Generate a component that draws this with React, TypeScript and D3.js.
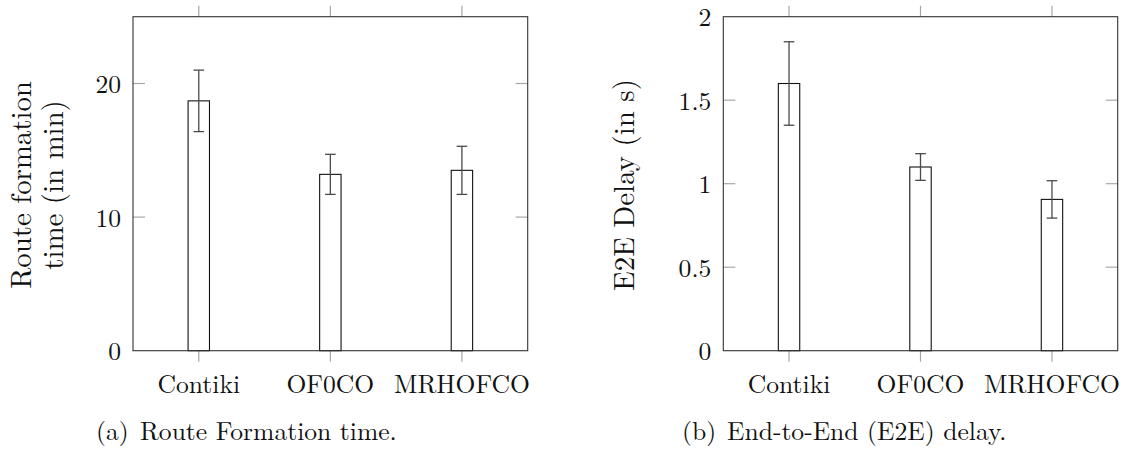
import React from 'react';
import * as d3 from 'd3';

const categories = ['Contiki', 'OF0CO', 'MRHOFCO'];

const routeFormation = [18.7, 13.2, 13.5];
const routeFormationErr = [2.3, 1.5, 1.8];
const routeTicks = [0, 10, 20];
const routeTickLabels = ['0', '10', '20'];

const e2eDelay = [1.6, 1.1, 0.906];
const e2eDelayErr = [0.25, 0.08, 0.112];
const delayTicks = [0, 0.5, 1, 1.5, 2];
const delayTickLabels = ['0', '0.5', '1', '1.5', '2'];

const FONT = '"Latin Modern Roman", "Liberation Serif", "DejaVu Serif"';

type PanelProps = {
  x0: number;
  x1: number;
  yMax: number;
  values: number[];
  errs: number[];
  ticks: number[];
  tickLabels: string[];
  yLabelLines: string[];
  yLabelXs: number[];
  captionTag: string;
  caption: string;
  captionTagX: number;
  captionX: number;
};

function Panel(p: PanelProps) {
  const yTop = 16.7;
  const yBottom = 350.7;
  const x = d3.scaleLinear().domain([0.5, 3.5]).range([p.x0, p.x1]);
  const y = d3.scaleLinear().domain([0, p.yMax]).range([yBottom, yTop]);
  const barW = 21.4;
  const capW = 10.6;
  const tickLen = 11;
  const tickColor = '#a8a8a8';
  const labelCy = (yTop + yBottom) / 2 + 1.3;
  const txt = { fontFamily: FONT };
  return (
    <g>
      {categories.map((c, i) => (
        <g key={'xt' + c}>
          <line x1={x(i + 1)} x2={x(i + 1)} y1={yBottom} y2={yBottom + tickLen} stroke={tickColor} strokeWidth={1.2} />
          <line x1={x(i + 1)} x2={x(i + 1)} y1={yTop} y2={yTop - tickLen} stroke={tickColor} strokeWidth={1.2} />
          <text x={x(i + 1)} y={393.3} textAnchor="middle" style={txt} fontSize={25.6} fill="#111">
            {c}
          </text>
        </g>
      ))}
      {p.ticks.map((t, i) => (
        <g key={'yt' + t}>
          {t > 0 && t < p.yMax && (
            <>
              <line x1={p.x0} x2={p.x0 + 12} y1={y(t)} y2={y(t)} stroke={tickColor} strokeWidth={1.2} />
              <line x1={p.x1} x2={p.x1 - 12} y1={y(t)} y2={y(t)} stroke={tickColor} strokeWidth={1.2} />
            </>
          )}
          <text x={p.x0 - 12} y={y(t)} dy="0.37em" textAnchor="end" style={txt} fontSize={25.6} fill="#111">
            {p.tickLabels[i]}
          </text>
        </g>
      ))}
      {p.values.map((v, i) => (
        <rect key={'b' + i} x={x(i + 1) - barW / 2} y={y(v)} width={barW} height={yBottom - y(v)} fill="#fff" stroke="#111" strokeWidth={1.1} />
      ))}
      {p.values.map((v, i) => {
        const cx = x(i + 1);
        const hi = y(v + p.errs[i]);
        const lo = y(v - p.errs[i]);
        return (
          <g key={'e' + i} stroke="#4a4a4a" strokeWidth={1.3}>
            <line x1={cx} x2={cx} y1={hi} y2={lo} />
            <line x1={cx - capW / 2} x2={cx + capW / 2} y1={hi} y2={hi} />
            <line x1={cx - capW / 2} x2={cx + capW / 2} y1={lo} y2={lo} />
          </g>
        );
      })}
      <rect x={p.x0} y={yTop} width={p.x1 - p.x0} height={yBottom - yTop} fill="none" stroke="#333" strokeWidth={1.1} />
      {p.yLabelLines.map((l, i) => (
        <text key={'yl' + i} transform={`translate(${p.yLabelXs[i]},${labelCy}) rotate(-90)`} textAnchor="middle" style={txt} fontSize={28.8} fill="#111">
          {l}
        </text>
      ))}
      <text x={p.captionTagX} y={440} style={txt} fontSize={25.6} fill="#111">
        {p.captionTag}
      </text>
      <text x={p.captionX} y={440} style={txt} fontSize={25.6} fill="#111">
        {p.caption}
      </text>
    </g>
  );
}

export default function App() {
  return (
    <svg width={1123} height={451} style={{ position: 'absolute', left: 0, top: 0, background: '#fff' }}>
      <rect x={0} y={0} width={1123} height={451} fill="#fff" />
      <Panel
        x0={133}
        x1={527.7}
        yMax={25}
        values={routeFormation}
        errs={routeFormationErr}
        ticks={routeTicks}
        tickLabels={routeTickLabels}
        yLabelLines={['Route formation', 'time (in min)']}
        yLabelXs={[31, 63]}
        captionTag="(a)"
        caption="Route Formation time."
        captionTagX={96}
        captionX={140}
      />
      <Panel
        x0={723.3}
        x1={1117.7}
        yMax={2}
        values={e2eDelay}
        errs={e2eDelayErr}
        ticks={delayTicks}
        tickLabels={delayTickLabels}
        yLabelLines={['E2E Delay (in s)']}
        yLabelXs={[634]}
        captionTag="(b)"
        caption="End-to-End (E2E) delay."
        captionTagX={682}
        captionX={727}
      />
    </svg>
  );
}
